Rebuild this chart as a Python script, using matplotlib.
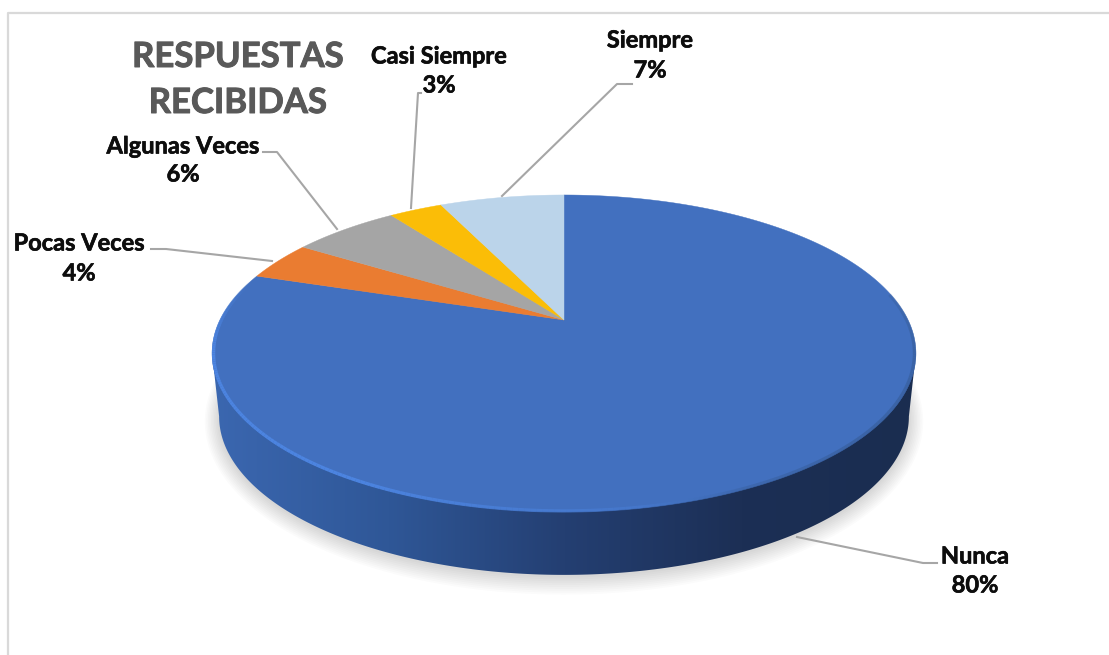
import numpy as np
import matplotlib
matplotlib.use('Agg')
import matplotlib.pyplot as plt
import matplotlib.patheffects as pe
from matplotlib.collections import LineCollection
from matplotlib.colors import LinearSegmentedColormap, to_rgb
from matplotlib.patches import Polygon

plt.rcParams['font.family'] = ['Lato', 'DejaVu Sans']

categories = ['Nunca', 'Pocas Veces', 'Algunas Veces', 'Casi Siempre', 'Siempre']
percents = [80, 4, 6, 3, 7]
colors = ['#4270BF', '#EA7C31', '#A5A5A5', '#FBBD07', '#BBD4EA']

# pie shape in pixels: perspective squeezes the far half of the disc
CX, CY = 564, 320
A, B, K = 344.0, 151.4, 0.211
DEPTH = 63
SIDE_SCALE = 0.98


def project(theta, r=1.0):
    u, v = r * np.cos(theta), r * np.sin(theta)
    w = 1 + K * v
    return CX + A * u / w, CY - B * v / w


def side_arc(theta, grow=0.0, drop=0.0):
    x, y = project(theta)
    return (CX + (SIDE_SCALE + grow / A) * (x - CX),
            CY + DEPTH + drop + (1 + grow / B) * (y - CY))


# label placement: text centres and leader polylines, in pixels
label_pos = {
    'Nunca': (975, 556, 585),
    'Pocas Veces': (79, 243, 273),
    'Algunas Veces': (183, 146, 174),
    'Casi Siempre': (439, 56, 85),
    'Siempre': (650, 40, 70),
}
leaders = {
    'Nunca': [(797, 537), (923, 563), (937, 563)],
    'Pocas Veces': [(272, 261), (166, 249), (151, 249)],
    'Algunas Veces': [(337, 229), (277, 152), (263, 152)],
    'Casi Siempre': [(411, 208), (418, 93), (421, 93)],
    'Siempre': [(502, 196), (617, 84), (632, 84)],
}

fig = plt.figure(figsize=(11.09, 6.55), dpi=100)
ax = fig.add_axes([0, 0, 1, 1])
ax.set_xlim(0, 1109)
ax.set_ylim(655, 0)
ax.axis('off')

# chart frame, only top and left are visible in the screenshot
ax.plot([8, 8, 1109], [655, 12.5, 12.5], color='#D9D9D9', lw=1.6, zorder=1)

# soft shadow under the disc
t = np.linspace(0, 2 * np.pi, 500)
for grow in np.arange(14, 0, -1.5):
    sx, sy = side_arc(t, grow=grow, drop=2)
    ax.fill(sx, sy, color='black', alpha=0.014, lw=0, zorder=2)

# side wall with a left to right gradient
t_low = np.linspace(np.pi, 2 * np.pi, 400)
bx, by = side_arc(t_low)
tx, ty = project(t_low)
left_i, right_i = np.argmin(tx), np.argmax(tx)
bl, br = np.argmin(bx), np.argmax(bx)
wall = np.column_stack([
    np.r_[tx[left_i], bx[bl:br + 1], tx[right_i]],
    np.r_[ty[left_i], by[bl:br + 1], ty[right_i]],
])
wall_patch = Polygon(wall, closed=True, fc='none', ec='none')
ax.add_patch(wall_patch)
wall_cmap = LinearSegmentedColormap.from_list('wall', [
    (0.0, '#3B67B0'), (0.25, '#2F5797'), (0.5, '#243F72'),
    (0.75, '#1C2F55'), (1.0, '#1A2D50'),
])
grad = ax.imshow(np.linspace(0, 1, 256)[None, :], extent=(212, 918, 600, 340),
                 cmap=wall_cmap, aspect='auto', zorder=3)
grad.set_clip_path(wall_patch)
ax.set_xlim(0, 1109)
ax.set_ylim(655, 0)

# top face, slices go clockwise from twelve o'clock
start = np.pi / 2
for name, pct, col in zip(categories, percents, colors):
    end = start - pct / sum(percents) * 2 * np.pi
    arc = np.linspace(start, end, max(pct * 8, 30))
    x, y = project(arc)
    ax.fill(np.r_[CX, x], np.r_[CY, y], color=col, lw=0.3, zorder=4)
    start = end

# bevel on the rim: light lower left, fading out, thin dark edge lower right
rim = np.radians(np.linspace(165, 370, 260))
rx, ry = project(rim, 0.996)
pts = np.column_stack([rx, ry]).reshape(-1, 1, 2)
segs = np.concatenate([pts[:-1], pts[1:]], axis=1)
light = np.array(to_rgb('#4C84E0'))
dark = np.array(to_rgb('#34588F'))
deg = np.degrees(rim[:-1])
mix = np.clip((deg - 280) / 15, 0, 1)
alpha = np.clip((deg - 165) / 25, 0, 1) * np.where(
    deg < 285, 1 - 0.75 * np.clip((deg - 240) / 45, 0, 1),
    0.25 + 0.25 * np.clip((deg - 285) / 30, 0, 1) * np.clip((370 - deg) / 20, 0, 1))
rgba = np.column_stack([(1 - mix)[:, None] * light + mix[:, None] * dark, alpha])
ax.add_collection(LineCollection(segs, colors=rgba, linewidths=2.4, zorder=5,
                                 capstyle='butt'))

# leader lines and labels
heavy = [pe.withStroke(linewidth=0.45, foreground='#0D0D0D')]
for name, pct in zip(categories, percents):
    px, py = zip(*leaders[name])
    ax.plot(px, py, color='#A6A6A6', lw=1.5, zorder=6, solid_joinstyle='round')
    lx, y1, y2 = label_pos[name]
    for yy, txt in ((y1, name), (y2, f'{pct}%')):
        ax.text(lx, yy, txt, ha='center', va='center', fontsize=17,
                fontweight='bold', color='#0D0D0D', zorder=7, path_effects=heavy)

title_fx = [pe.withStroke(linewidth=0.7, foreground='#595959')]
ax.text(238, 57, 'RESPUESTAS', ha='center', va='center', fontsize=25,
        fontweight='bold', color='#595959', zorder=7, path_effects=title_fx)
ax.text(238, 103, 'RECIBIDAS', ha='center', va='center', fontsize=25,
        fontweight='bold', color='#595959', zorder=7, path_effects=title_fx)

fig.savefig('out.png', dpi=100, facecolor='white')
